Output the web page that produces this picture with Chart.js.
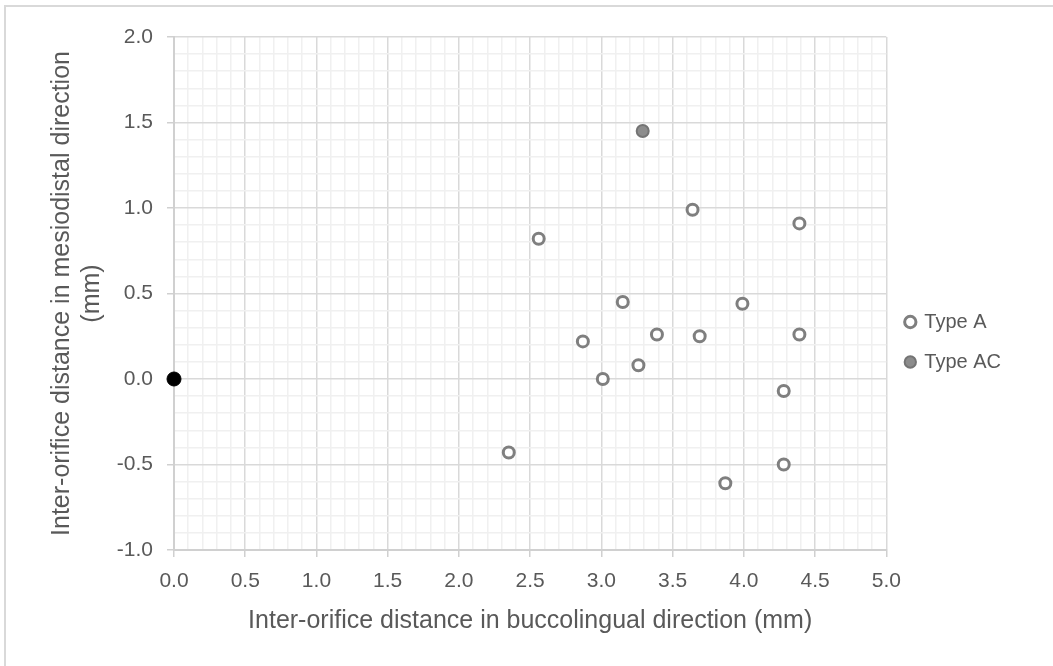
<!DOCTYPE html>
<html>
<head>
<meta charset="utf-8">
<script src="https://cdn.jsdelivr.net/npm/chart.js@4/dist/chart.umd.min.js"></script>
<style>
  html, body { margin: 0; padding: 0; background: #fff; overflow: hidden; }
  #frame { position: absolute; left: 4px; top: 5px; width: 1100px; height: 700px; border: 2px solid #d9d9d9; box-sizing: border-box; }
  #wrap { position: absolute; left: 0; top: 0; width: 1053px; height: 666px; }
</style>
</head>
<body>
<div id="frame"></div>
<div id="wrap"><canvas id="chart"></canvas></div>
<script>
// --- Data ---
const typeAX = [2.56, 3.64, 4.39, 3.15, 3.99, 2.87, 3.39, 3.69, 4.39, 3.01, 3.26, 4.28, 2.35, 4.28, 3.87];
const typeAY = [0.82, 0.99, 0.91, 0.45, 0.44, 0.22, 0.26, 0.25, 0.26, 0.00, 0.08, -0.07, -0.43, -0.50, -0.61];
const typeACX = [3.29];
const typeACY = [1.45];
const originX = [0];
const originY = [0];

const X_TITLE = 'Inter-orifice distance in buccolingual direction (mm)';
const Y_TITLE = ['Inter-orifice distance in mesiodistal direction', '(mm)'];

const TEXT = '#595959';
const FONT = "'Liberation Sans', Arial, sans-serif";

function toPoints(xs, ys) {
    return xs.map((x, i) => ({ x: x, y: ys[i] }));
}

// major lines every 0.5, minor every 0.1
function isMajor(v) {
    return Math.abs(Math.round(v * 10)) % 5 === 0;
}

function gridColor(ctx) {
    if (!ctx.tick) return '#f2f2f2';
    return isMajor(ctx.tick.value) ? '#d9d9d9' : '#f0f0f0';
}

function tickMarkColor(ctx) {
    if (!ctx.tick) return 'transparent';
    return isMajor(ctx.tick.value) ? '#d0d0d0' : 'transparent';
}

function tickLabel(v) {
    return isMajor(v) ? v.toFixed(1) : '';
}

const ctx = document.getElementById('chart').getContext('2d');
const chart = new Chart(ctx, {
    type: 'scatter',
    data: {
        datasets: [
            {
                label: 'Type A',
                data: toPoints(typeAX, typeAY),
                backgroundColor: '#ffffff',
                borderColor: '#7f7f7f',
                borderWidth: 3,
                pointRadius: 5.5,
                pointHoverRadius: 5.5
            },
            {
                label: 'Type AC',
                data: toPoints(typeACX, typeACY),
                backgroundColor: '#8c8c8c',
                borderColor: '#747474',
                borderWidth: 2,
                pointRadius: 6,
                pointHoverRadius: 6
            },
            {
                label: 'origin',
                data: toPoints(originX, originY),
                backgroundColor: '#000000',
                borderColor: '#000000',
                borderWidth: 1,
                pointRadius: 7,
                pointHoverRadius: 7
            }
        ]
    },
    options: {
        responsive: true,
        maintainAspectRatio: false,
        animation: false,
        clip: false,
        layout: { padding: { left: 43, right: 42, top: 37, bottom: 19 } },
        plugins: {
            tooltip: { enabled: false },
            legend: {
                position: 'right',
                align: 'center',
                labels: {
                    usePointStyle: true,
                    boxWidth: 8,
                    boxHeight: 8,
                    padding: 20,
                    color: TEXT,
                    font: { family: FONT, size: 20 },
                    filter: (item) => item.text !== 'origin'
                }
            }
        },
        scales: {
            x: {
                type: 'linear',
                min: 0,
                max: 5,
                afterFit: (scale) => { scale.height = 97; },
                border: { color: '#d0d0d0', width: 2 },
                grid: { color: gridColor, lineWidth: 1.5, tickColor: tickMarkColor, tickLength: 7 },
                ticks: {
                    stepSize: 0.1,
                    autoSkip: false,
                    maxRotation: 0,
                    padding: 12,
                    color: TEXT,
                    font: { family: FONT, size: 21 },
                    callback: tickLabel
                },
                title: {
                    display: true,
                    text: X_TITLE,
                    color: TEXT,
                    padding: { top: 4, bottom: 11 },
                    font: { family: FONT, size: 25 }
                }
            },
            y: {
                type: 'linear',
                min: -1,
                max: 2,
                afterFit: (scale) => { scale.width = 131; },
                border: { color: '#d0d0d0', width: 2 },
                grid: { color: gridColor, lineWidth: 1.5, tickColor: tickMarkColor, tickLength: 7 },
                ticks: {
                    stepSize: 0.1,
                    autoSkip: false,
                    padding: 14,
                    color: TEXT,
                    font: { family: FONT, size: 21 },
                    callback: tickLabel
                },
                title: {
                    display: true,
                    text: Y_TITLE,
                    color: TEXT,
                    font: { family: FONT, size: 25 }
                }
            }
        }
    }
});
</script>
</body>
</html>
